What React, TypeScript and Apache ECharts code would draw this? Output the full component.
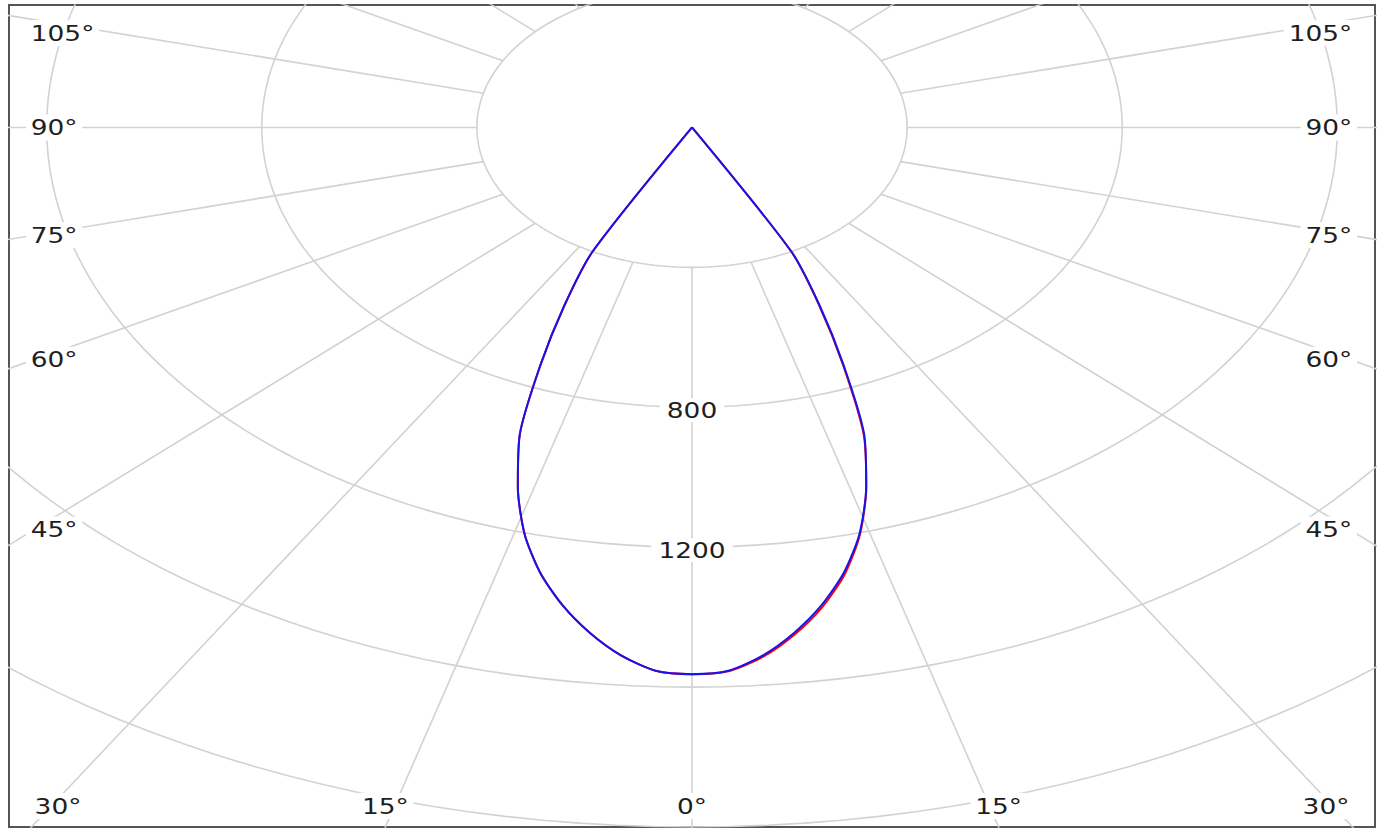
import React, { useEffect, useRef } from "react";
import * as echarts from "echarts";

// ---- data (candela, angle in degrees from nadir) ----
const ANGLES = [0, 2.5, 5, 7.5, 10, 12.5, 15, 17.5, 20, 22.5, 25, 27.5, 30, 45, 60, 75, 90, 105, 120, 135, 150, 165, 180];
const BLUE_C0 = [1563, 1555, 1515, 1457, 1387, 1304, 1203, 1077, 937, 738, 561, 400, 0, 0, 0, 0, 0, 0, 0, 0, 0, 0, 0];
const BLUE_C180 = [1563, 1555, 1515, 1457, 1387, 1304, 1203, 1077, 937, 738, 561, 400, 0, 0, 0, 0, 0, 0, 0, 0, 0, 0, 0];
const RED_C90 = [1563, 1556, 1519, 1462, 1393, 1310, 1206, 1078, 933, 733, 557, 398, 0, 0, 0, 0, 0, 0, 0, 0, 0, 0, 0];
const RED_C270 = [1563, 1555, 1515, 1457, 1387, 1304, 1203, 1077, 937, 738, 561, 400, 0, 0, 0, 0, 0, 0, 0, 0, 0, 0, 0];

const RING_VALUES = [400, 800, 1200, 1600, 2000, 2400];
const RING_LABEL_VALUES = [800, 1200];
const SPOKE_ANGLES = [0, 15, 30, 45, 60, 75, 90, 105, 120, 135, 150, 165, 180];

// ---- layout / style ----
const X_MIN = -1270;
const X_MAX = 1270;
const Y_MIN = -2000;
const Y_MAX = 350;
const GRID = { left: 9, top: 5, width: 1366, height: 822 };
const SPOKE_ASPECT = 0.94; // vertical compression of the reference's radial grid lines
const GRID_COLOR = "#d2d2d2";
const FONT = "DejaVu Sans";
const CURVE_SMOOTH = 0.25;

const rad = (d: number) => (d * Math.PI) / 180;

function polarPoint(side: number, deg: number, r: number): [number, number] {
  return [side * r * Math.sin(rad(deg)), -r * Math.cos(rad(deg))];
}

function planePoints(left: number[], right: number[]) {
  const pts: [number, number][] = [];
  for (let i = ANGLES.length - 1; i >= 0; i--) pts.push(polarPoint(-1, ANGLES[i], left[i]));
  for (let i = 1; i < ANGLES.length; i++) pts.push(polarPoint(1, ANGLES[i], right[i]));
  return pts;
}

function spokeDir(side: number, deg: number): [number, number] {
  const dx = side * Math.sin(rad(deg));
  const dy = -SPOKE_ASPECT * Math.cos(rad(deg));
  const n = Math.hypot(dx, dy);
  return [dx / n, dy / n];
}

export default function App() {
  const ref = useRef<HTMLDivElement>(null);

  useEffect(() => {
    if (!ref.current) return;
    const chart = echarts.init(ref.current, undefined, { renderer: "svg" });

    const series: any[] = [];
    RING_VALUES.forEach((r) => {
      const pts: [number, number][] = [];
      for (let a = 0; a <= 360; a += 2) pts.push([r * Math.cos(rad(a)), r * Math.sin(rad(a))]);
      series.push({
        type: "line",
        data: pts,
        symbol: "none",
        silent: true,
        z: 1,
        lineStyle: { color: GRID_COLOR, width: 1.6 },
      });
    });
    SPOKE_ANGLES.forEach((deg) => {
      const sides = deg === 0 || deg === 180 ? [1] : [-1, 1];
      sides.forEach((side) => {
        const d = spokeDir(side, deg);
        series.push({
          type: "line",
          data: [
            [d[0] * RING_VALUES[0], d[1] * RING_VALUES[0]],
            [d[0] * 6000, d[1] * 6000],
          ],
          symbol: "none",
          silent: true,
          z: 1,
          lineStyle: { color: GRID_COLOR, width: 1.6 },
        });
      });
    });
    series.push({
      name: "C90-C270",
      type: "line",
      data: planePoints(RED_C270, RED_C90),
      symbol: "none",
      smooth: CURVE_SMOOTH,
      z: 3,
      lineStyle: { color: "#ff0000", width: 2 },
    });
    series.push({
      name: "C0-C180",
      type: "line",
      data: planePoints(BLUE_C180, BLUE_C0),
      symbol: "none",
      smooth: CURVE_SMOOTH,
      z: 4,
      lineStyle: { color: "#1414f0", width: 2 },
    });

    chart.setOption({
      animation: false,
      backgroundColor: "#ffffff",
      grid: {
        show: true,
        ...GRID,
        containLabel: false,
        borderColor: "#555555",
        borderWidth: 2,
        backgroundColor: "#ffffff",
      },
      xAxis: {
        type: "value",
        min: X_MIN,
        max: X_MAX,
        show: false,
        splitLine: { show: false },
      },
      yAxis: {
        type: "value",
        min: Y_MIN,
        max: Y_MAX,
        show: false,
        splitLine: { show: false },
      },
      series,
    });

    // labels positioned through the chart's own scales
    const toPx = (p: number[]) => chart.convertToPixel({ gridIndex: 0 }, p) as number[];
    const c = toPx([0, 0]);
    const L = GRID.left;
    const R = GRID.left + GRID.width;
    const T = GRID.top;
    const B = GRID.top + GRID.height;
    const textStyle = (text: string, align: string) => ({
      text,
      fill: "#1e1e1e",
      fontSize: 22,
      fontFamily: FONT,
      align,
      verticalAlign: "middle",
      backgroundColor: "#ffffff",
      padding: [2, 4],
    });
    const graphic: any[] = [];

    SPOKE_ANGLES.forEach((deg) => {
      const sides = deg === 0 || deg === 180 ? [1] : [-1, 1];
      sides.forEach((side) => {
        const d = spokeDir(side, deg);
        const f = toPx([d[0] * 3000, d[1] * 3000]);
        const vx = f[0] - c[0];
        const vy = f[1] - c[1];
        const tx = vx > 0.001 ? (R - c[0]) / vx : vx < -0.001 ? (L - c[0]) / vx : Infinity;
        const ty = vy > 0.001 ? (B - c[1]) / vy : vy < -0.001 ? (T - c[1]) / vy : Infinity;
        if (vy < 0 && ty < tx) return;
        if (tx < ty) {
          const ax = side < 0 ? L + 25 : R - 25;
          const t = (ax - c[0]) / vx;
          const y = Math.max(c[1] + t * vy, T + 28);
          graphic.push({
            type: "text",
            x: side < 0 ? L + 17 : R - 18,
            y,
            scaleX: 1.2,
            z: 100,
            style: textStyle(`${deg}°`, side < 0 ? "left" : "right"),
          });
        } else {
          // centred on the spoke's exit through the bottom edge, kept inside the frame
          let x = c[0] + ty * vx;
          x = Math.min(Math.max(x, L + 49), R - 49);
          graphic.push({
            type: "text",
            x,
            y: B - 21,
            scaleX: 1.2,
            z: 100,
            style: textStyle(`${deg}°`, "center"),
          });
        }
      });
    });

    RING_LABEL_VALUES.forEach((v) => {
      const p = toPx([0, -v]);
      graphic.push({
        type: "text",
        x: p[0],
        y: p[1] + 3,
        scaleX: 1.2,
        z: 100,
        style: { ...textStyle(String(v), "center"), padding: [1, 6] },
      });
    });

    chart.setOption({ graphic });

    return () => chart.dispose();
  }, []);

  return (
    <div
      ref={ref}
      style={{ position: "fixed", left: 0, top: 0, width: 1386, height: 829, background: "#fff" }}
    />
  );
}
